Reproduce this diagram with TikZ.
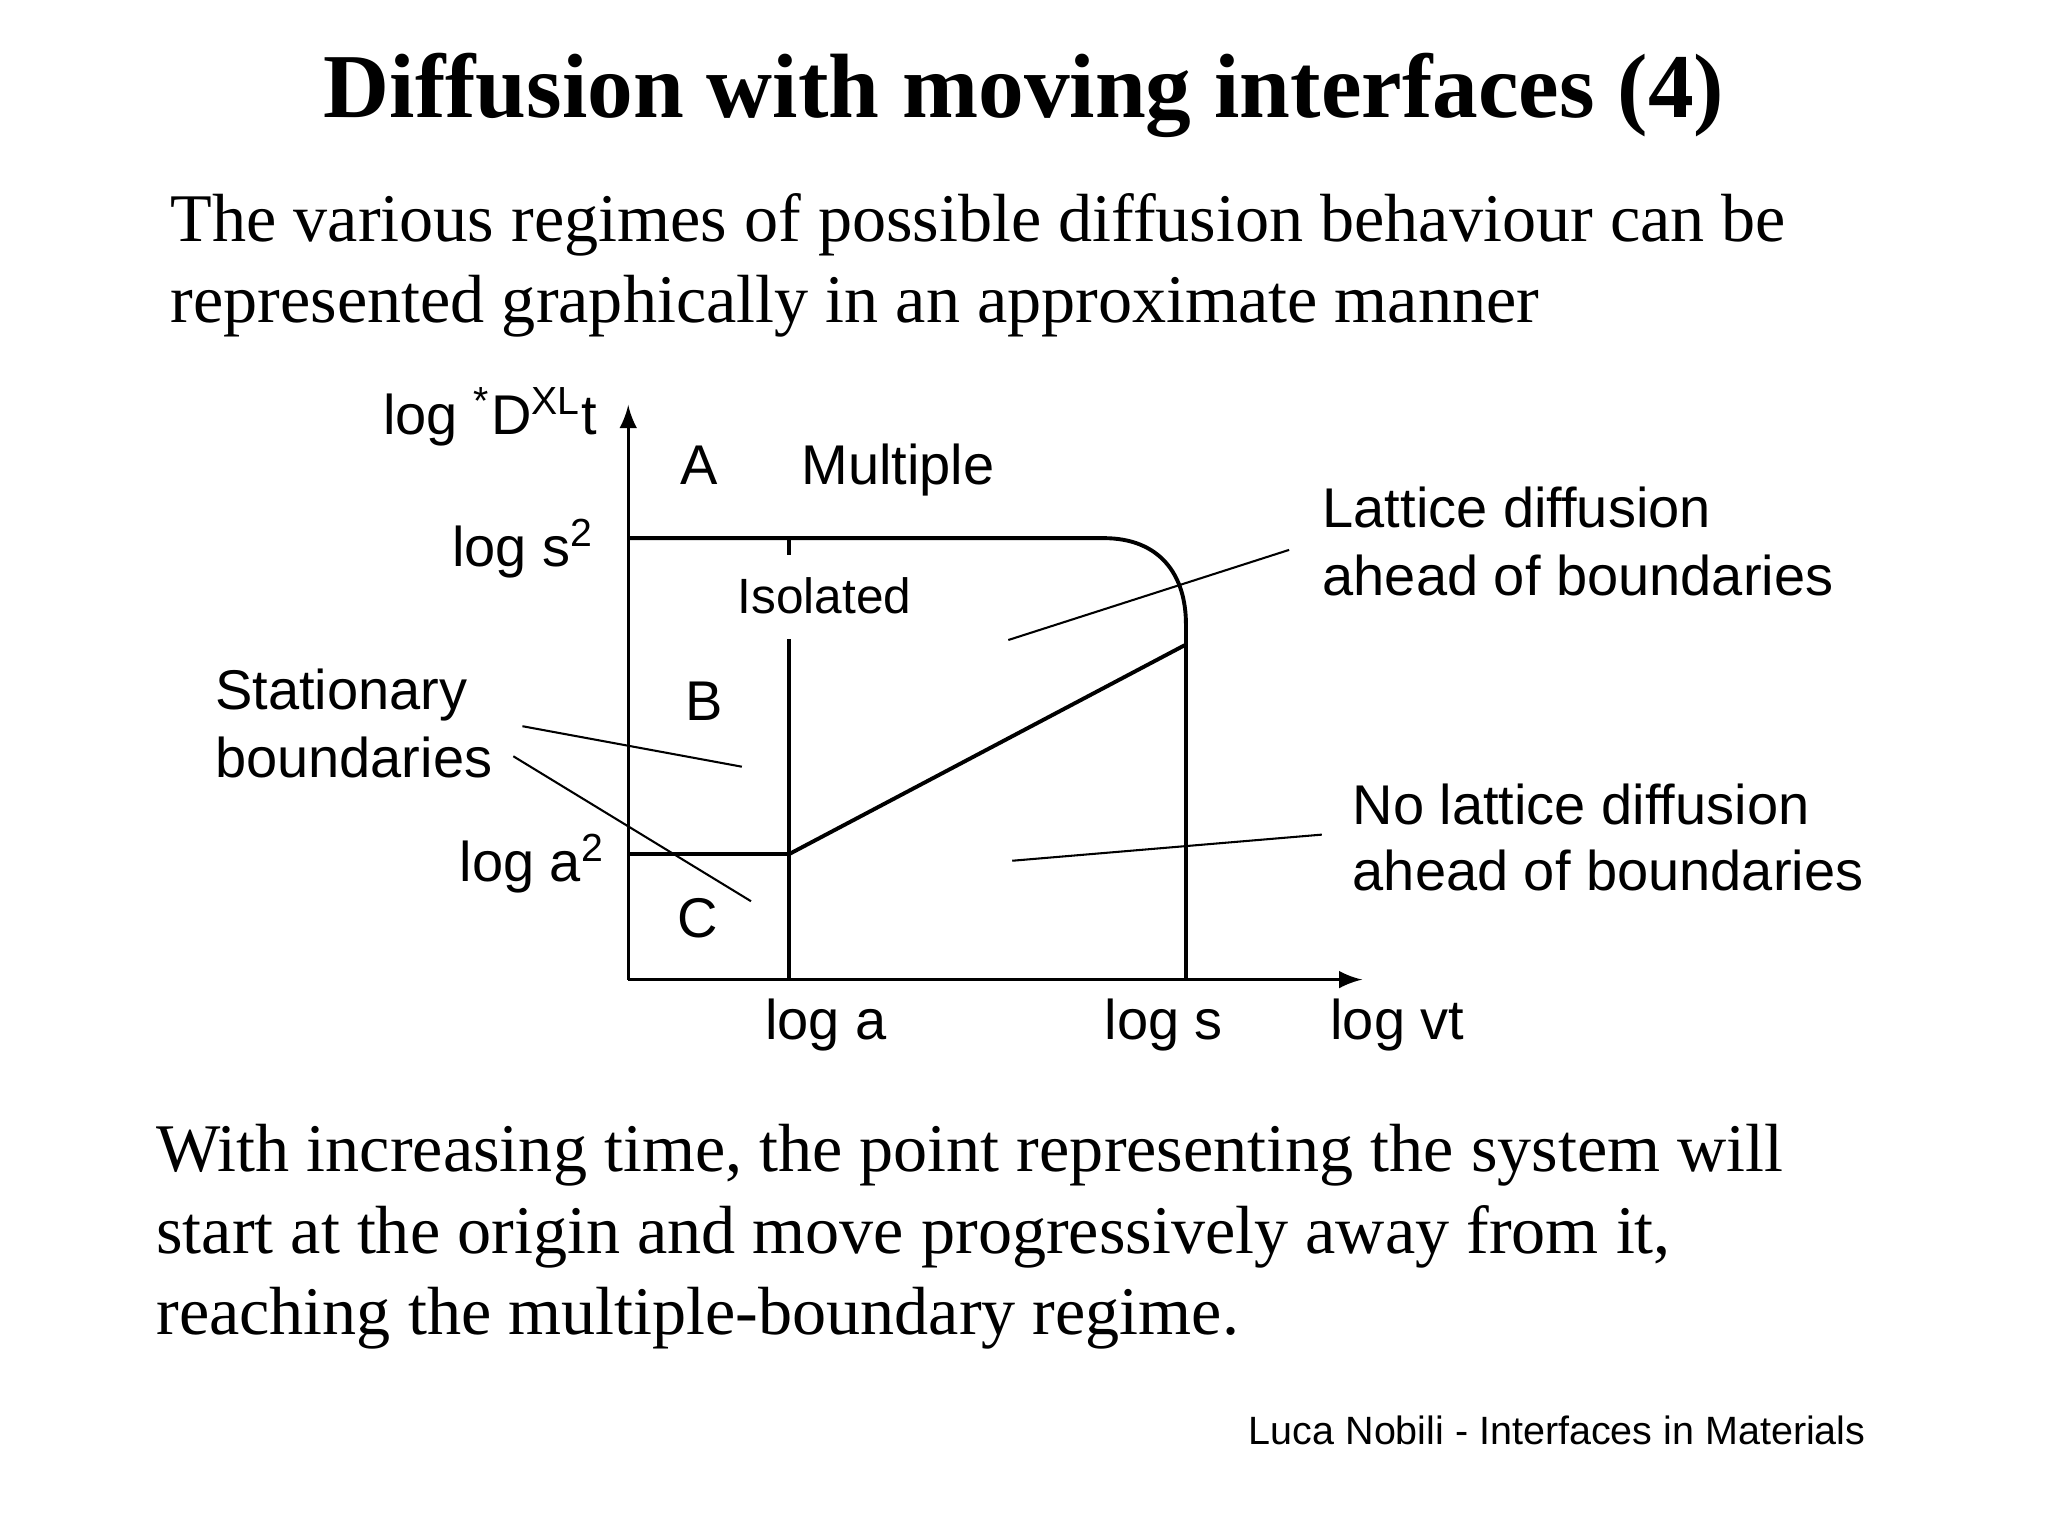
\documentclass[tikz,border=0pt]{standalone}
\usepackage{fontspec}
\setmainfont{Liberation Serif}
\setsansfont{Liberation Sans}
\usetikzlibrary{arrows}

\tikzset{
  lbl/.style={font=\sffamily\fontsize{12.2}{14}\selectfont, inner sep=0pt},
  smalllbl/.style={font=\sffamily\fontsize{10.8}{13}\selectfont, inner sep=0pt},
  body/.style={font=\fontsize{14.85}{17.6}\selectfont, inner sep=0pt},
  axis/.style={line width=0.75pt},
  bound/.style={line width=0.85pt},
  leader/.style={line width=0.45pt},
}

\begin{document}
\begin{tikzpicture}[x=0.1mm,y=-0.1mm]
\useasboundingbox (0,0) rectangle (1568,1176);

% title and text
\node[anchor=base, inner sep=0pt, font=\bfseries\fontsize{19.9}{24}\selectfont] (title) at (784,90) {Diffusion with moving interfaces (4)};
\node[body, anchor=base west] (intro1) at (130,185) {The various regimes of possible diffusion behaviour can be};
\node[body, anchor=base west] (intro2) at (130,247) {represented graphically in an approximate manner};

% axes
\coordinate (O) at (481,750);
\coordinate (ytop) at (481,310);
\coordinate (xend) at (1043,750);
\draw[axis,-latex] (O) -- (ytop); % eje y
\draw[axis,-latex] (O) -- (xend); % eje x

% regime boundaries
\coordinate (s2) at (481,412);
\coordinate (a2) at (481,654);
\coordinate (la) at (604,750);
\coordinate (ls) at (908,750);
\coordinate (knee) at (604,654);
\coordinate (top) at (907,494);
\draw[bound] (s2) -- (845,412) .. controls (888,412) and (908,440) .. (908,478) -- (ls);
\draw[axis] (604,412) -- (604,425);
\draw[axis] (la) -- (604,489);
\draw[axis] (a2) -- (knee);
\draw[bound] (knee) -- (top);

% labels
\node[lbl, anchor=base east] (yl) at (458,333) {log \textsuperscript{*}D\textsuperscript{XL}t};
\node[lbl, anchor=base east] (ls2) at (456,434) {log s\textsuperscript{2}};
\node[lbl, anchor=base east] (la2) at (464,675) {log a\textsuperscript{2}};
\node[lbl, anchor=base west] (regA) at (520,371) {A};
\node[lbl, anchor=base west] (mult) at (613,371) {Multiple};
\node[smalllbl, anchor=base west] (iso) at (564,470) {Isolated};
\node[lbl, anchor=base west] (regB) at (524,552) {B};
\node[lbl, anchor=base west] (regC) at (518,718) {C};
\node[lbl, anchor=base west] (stat1) at (164,543) {Stationary};
\node[lbl, anchor=base west] (stat2) at (164,595) {boundaries};
\node[lbl, anchor=base west] (lat1) at (1012,404) {Lattice diffusion};
\node[lbl, anchor=base west] (lat2) at (1012,456) {ahead of boundaries};
\node[lbl, anchor=base west] (nolat1) at (1035,631) {No lattice diffusion};
\node[lbl, anchor=base west] (nolat2) at (1035,682) {ahead of boundaries};
\node[lbl, anchor=base west] (xla) at (585,796) {log a};
\node[lbl, anchor=base west] (xls) at (845,796) {log s};
\node[lbl, anchor=base west] (xvt) at (1018,796) {log vt};

% leader lines
\coordinate (latA) at (987,421);  \coordinate (latB) at (772,490);
\coordinate (nolA) at (1012,639); \coordinate (nolB) at (775,659);
\coordinate (stA) at (400,556);   \coordinate (stB) at (568,587);
\coordinate (stC) at (393,579);   \coordinate (stD) at (575,690);
\draw[leader] (latA) -- (latB);
\draw[leader] (nolA) -- (nolB);
\draw[leader] (stA) -- (stB);
\draw[leader] (stC) -- (stD);

% closing text
\node[body, anchor=base west] (end1) at (119,897) {With increasing time, the point representing the system will};
\node[body, anchor=base west] (end2) at (119,960) {start at the origin and move progressively away from it,};
\node[body, anchor=base west] (end3) at (119,1022) {reaching the multiple-boundary regime.};
\node[anchor=base east, inner sep=0pt, font=\sffamily\fontsize{8.6}{10}\selectfont] (foot) at (1429,1106) {Luca Nobili - Interfaces in Materials};
\end{tikzpicture}
\end{document}
